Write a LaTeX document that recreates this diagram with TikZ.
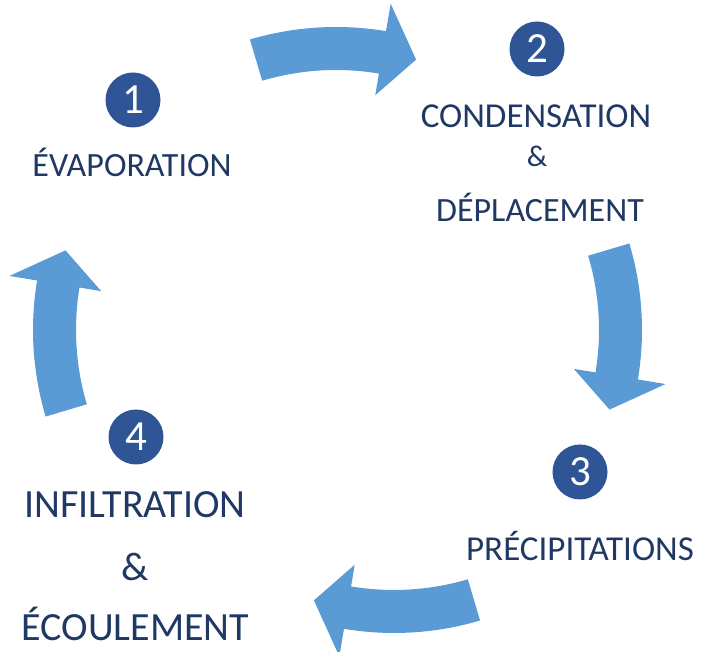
\documentclass[tikz,border=0pt]{standalone}
\usepackage{fontspec}
\setmainfont{Carlito}
\usetikzlibrary{calc}
\definecolor{arrowblue}{HTML}{5B9BD5}
\definecolor{numblue}{HTML}{2F5597}
\definecolor{textnavy}{HTML}{1F3864}
\tikzset{
  numcirc/.style={circle,fill=numblue,text=white,minimum size=55pt,inner sep=0pt,font=\fontsize{43}{43}\selectfont},
  label/.style={text=textnavy,anchor=base,inner sep=0pt,font=\fontsize{#1}{#1}\selectfont},
  cyc/.style={fill=arrowblue,draw=none}
}
\newcommand\cyclearrow[3]{% center x, center y, tail angle
  \fill[cyc] ($(#1pt,#2pt)+(#3:303pt)$)
    arc[start angle=#3, end angle=#3-26, radius=303pt]
    -- ($(#1pt,#2pt)+(#3-26:331pt)$)
    -- ($(#1pt,#2pt)+(#3-33:282pt)$)
    -- ($(#1pt,#2pt)+(#3-26:238pt)$)
    -- ($(#1pt,#2pt)+(#3-26:260pt)$)
    arc[start angle=#3-26, end angle=#3, radius=260pt]
    -- cycle;}
\begin{document}
\begin{tikzpicture}
\useasboundingbox (0,0) rectangle (710pt,652pt);
% cycle arrows
\cyclearrow{336}{322}{106.5}
\cyclearrow{339}{322}{16.6}
\cyclearrow{394}{322}{-73.5}
\cyclearrow{336}{322}{196.6}
% numbered circles
\node[numcirc] (n1) at (133pt,552pt) {1};
\node[numcirc] (n2) at (537pt,603pt) {2};
\node[numcirc] (n3) at (580pt,180pt) {3};
\node[numcirc] (n4) at (136pt,215pt) {4};
% labels
\node[label=34] (t1) at (132pt,475pt) {ÉVAPORATION};
\node[label=35] (t2a) at (536pt,524pt) {CONDENSATION};
\node[label=30] (t2b) at (537pt,485pt) {\&};
\node[label=34] (t2c) at (540pt,430pt) {DÉPLACEMENT};
\node[label=35] (t3) at (580pt,91pt) {PRÉCIPITATIONS};
\node[label=40] (t4a) at (135pt,134pt) {INFILTRATION};
\node[label=40] (t4b) at (135pt,71pt) {\&};
\node[label=40] (t4c) at (135.5pt,11pt) {ÉCOULEMENT};
\end{tikzpicture}
\end{document}
